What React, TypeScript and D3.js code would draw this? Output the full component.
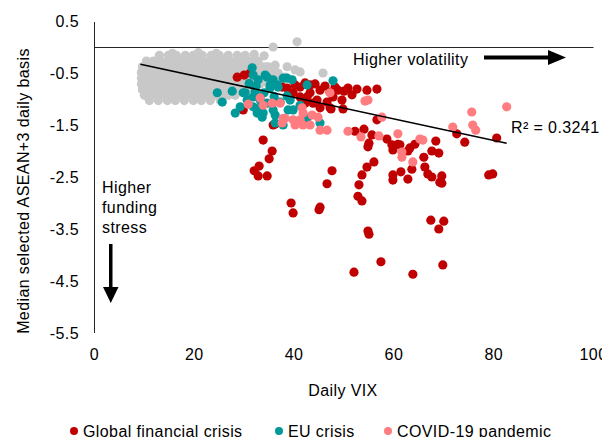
import React from "react";
import * as d3 from "d3";

// ---- data ----
const xTicks = [0, 20, 40, 60, 80, 100];
const yTicks = [0.5, -0.5, -1.5, -2.5, -3.5, -4.5, -5.5];

const seriesNames = ["Global financial crisis", "EU crisis", "COVID-19 pandemic"];
const seriesColors = ["#C00000", "#009999", "#FF7C80"];
const grayColor = "#C8C8C8";

// Non-crisis days (gray cloud), read row by row
const grayRowY = [-0.16, -0.27, -0.38, -0.49, -0.6, -0.71, -0.82, -0.93, -1.03];
const grayRowX = [
  [13.0, 14.8, 16.4, 18.2, 19.8, 21.6, 23.4, 25.0, 26.8, 28.6, 30.2],
  [10.4, 11.8, 13.2, 14.6, 16.0, 17.4, 18.8, 20.2, 21.6, 23.0, 24.4, 25.8, 27.2, 28.6, 30.0, 31.4, 32.8],
  [9.6, 11.0, 12.4, 13.8, 15.2, 16.6, 18.0, 19.4, 20.8, 22.2, 23.6, 25.0, 26.4, 27.8, 29.2, 30.6, 32.0, 33.4, 34.8],
  [9.4, 10.8, 12.2, 13.6, 15.0, 16.4, 17.8, 19.2, 20.6, 22.0, 23.4, 24.8, 26.2, 27.6, 29.0, 30.4, 31.8, 33.2, 34.6, 36.0],
  [9.4, 10.8, 12.2, 13.6, 15.0, 16.4, 17.8, 19.2, 20.6, 22.0, 23.4, 24.8, 26.2, 27.6, 29.0, 30.4, 31.8, 33.2, 34.6, 36.2],
  [9.4, 10.8, 12.2, 13.6, 15.0, 16.4, 17.8, 19.2, 20.6, 22.0, 23.4, 24.8, 26.2, 27.6, 29.0, 30.4, 31.8, 33.2, 34.8],
  [9.6, 11.0, 12.4, 13.8, 15.2, 16.6, 18.0, 19.4, 20.8, 22.2, 23.6, 25.0, 26.4, 27.8, 29.2, 30.6],
  [10.0, 11.4, 12.8, 14.2, 15.6, 17.0, 18.4, 19.8, 21.2, 22.6, 24.0, 25.4, 26.8, 28.2],
  [11.0, 12.8, 14.6, 16.2, 18.0, 19.8, 21.4, 23.2, 25.2],
];
const grayExtra: [number, number][] = [
  [35.8, 0.0], [40.6, 0.1], [34.0, -0.17], [40.2, -0.44], [38.2, -0.58], [41.2, -0.48],
  [45.8, -0.5], [38.6, -0.38], [36.2, -0.35], [34.2, -0.38], [32.0, -0.14], [15.6, -0.12],
  [20.8, -0.11], [24.4, -0.12], [36.8, -0.5], [37.4, -0.66],
];

const gfcPoints: [number, number][] = [
  [28.6, -0.58], [30.0, -0.54], [31.2, -0.5], [37.6, -0.77], [38.6, -0.79], [39.8, -0.88],
  [41.2, -0.77], [43.2, -0.73], [45.2, -0.83], [47.2, -0.87], [48.8, -0.83], [50.8, -0.79],
  [52.6, -0.81], [56.6, -0.81], [39.2, -0.96], [41.2, -0.96], [43.2, -0.88], [42.6, -0.96],
  [44.6, -1.02], [46.6, -1.06], [47.8, -0.96], [49.6, -1.02], [42.2, -1.08], [43.8, -1.08],
  [45.2, -1.17], [47.2, -1.17], [49.8, -1.19], [47.4, -1.19], [40.2, -0.73], [42.2, -0.69],
  [44.2, -0.71], [46.2, -0.75], [48.2, -0.77], [29.8, -1.21], [35.8, -1.5], [33.8, -1.79],
  [35.6, -2.0], [35.0, -2.15], [33.0, -2.29], [32.0, -2.38], [32.8, -2.48], [34.6, -2.48],
  [39.4, -3.0], [39.8, -3.19], [45.2, -3.08], [45.0, -3.13], [47.6, -2.38], [46.6, -2.63],
  [56.0, -2.21], [54.6, -2.31], [53.6, -2.46], [53.0, -2.65], [52.8, -2.87], [53.6, -2.96],
  [54.8, -3.54], [55.0, -3.6], [52.0, -4.33], [57.4, -4.13], [63.8, -4.37], [67.4, -3.33],
  [70.0, -3.35], [69.0, -3.5], [69.8, -4.19], [79.0, -2.46], [79.8, -2.44], [80.6, -1.75],
  [72.6, -1.67], [74.2, -1.83], [68.4, -1.81], [67.6, -2.0], [69.0, -2.04], [66.0, -2.12],
  [66.2, -2.31], [66.8, -2.44], [67.6, -2.5], [69.6, -2.48], [69.6, -2.62], [63.6, -2.35],
  [62.8, -2.54], [61.4, -2.4], [63.2, -1.94], [64.2, -1.87], [61.2, -1.88], [59.8, -1.98],
  [59.8, -2.46], [59.8, -2.56], [58.6, -1.77], [59.6, -1.88], [60.8, -1.87], [52.2, -1.62],
  [54.0, -1.58], [55.6, -1.69], [55.0, -1.85], [54.8, -1.92], [56.6, -1.4], [69.2, -2.6],
  [62.8, -2.0], [50.0, -0.85], [54.6, -0.83], [51.6, -0.92], [36.2, -1.48],
];

const euPoints: [number, number][] = [
  [24.6, -0.88], [25.6, -1.06], [27.6, -0.85], [28.2, -1.27], [29.2, -1.15], [31.6, -0.4],
  [31.8, -0.54], [32.8, -0.63], [34.2, -0.54], [34.6, -0.58], [35.8, -0.63], [36.8, -0.77],
  [37.8, -0.6], [38.6, -0.6], [39.6, -0.63], [30.2, -0.88], [31.8, -0.96], [33.2, -1.02],
  [31.8, -1.15], [32.6, -1.27], [33.8, -1.27], [33.6, -1.35], [34.6, -1.08], [35.8, -1.21],
  [36.2, -1.31], [36.2, -1.46], [37.8, -1.5], [38.8, -1.21], [39.8, -1.21], [39.2, -1.02],
  [38.6, -0.94], [35.2, -0.73], [36.6, -0.73], [41.2, -1.12], [42.6, -1.37], [45.2, -1.46],
  [42.6, -0.73], [47.8, -0.65], [29.8, -0.88], [30.6, -1.02], [33.2, -0.96], [37.2, -1.06],
  [35.2, -0.79], [33.2, -1.17], [32.4, -0.75], [31.0, -0.7], [34.0, -0.88], [36.0, -0.95],
  [32.2, -0.85],
];

const covidPoints: [number, number][] = [
  [30.8, -1.1], [33.2, -0.98], [33.8, -1.12], [35.6, -1.08], [37.2, -1.08], [37.8, -1.37],
  [38.2, -1.37], [39.8, -1.4], [40.2, -1.5], [41.2, -1.4], [41.2, -1.46], [41.6, -1.17],
  [41.8, -1.27], [41.8, -1.5], [43.2, -1.5], [43.6, -1.31], [44.8, -1.35], [45.2, -1.6],
  [46.6, -1.6], [47.2, -0.88], [54.2, -1.04], [57.6, -1.35], [50.8, -1.62], [53.4, -1.73],
  [57.0, -1.71], [60.8, -1.67], [65.2, -1.77], [65.8, -1.79], [61.6, -2.02], [61.6, -2.12],
  [63.8, -2.21], [71.8, -1.54], [75.6, -1.25], [75.8, -1.5], [76.4, -1.6], [82.6, -1.15],
  [37.6, -1.46], [54.8, -1.02],
];

// linear trend (as shown)
const trendRange = [9.2, 82.6];
const trendSlope = -0.0207;
const trendIntercept = -0.14;
const rSquaredLabel = "R² = 0.3241";

const FONT = "'Liberation Sans', Arial, sans-serif";

export default function App() {
  const W = 602;
  const H = 437;
  const x = d3.scaleLinear().domain([0, 100]).range([94.5, 593.5]);
  const y = d3.scaleLinear().domain([-5.5, 0.5]).range([333, 21]);
  const r = 4.6;

  const grayPoints: [number, number][] = [];
  grayRowY.forEach((yy, i) => grayRowX[i].forEach((xx) => grayPoints.push([xx, yy])));
  grayExtra.forEach((p) => grayPoints.push(p));

  const trendLine = d3
    .line<number>()
    .x((d) => x(d))
    .y((d) => y(trendIntercept + trendSlope * d));

  const textStyle = { fontFamily: FONT, fontSize: 16, letterSpacing: 0.4, fill: "#000" } as const;

  const legendX = [74, 279, 388];
  const zeroY = Math.round(y(0)) + 0.5;

  return (
    <div style={{ position: "absolute", left: 0, top: 0 }}>
      <svg width={W} height={H} style={{ display: "block", background: "#fff" }}>
        {/* y axis line */}
        <line x1={x(0)} x2={x(0)} y1={y(0.5) + 1} y2={y(-5.5)} stroke="#262626" strokeWidth={1} />
        {/* x axis at zero */}
        <line x1={x(0)} x2={x(100)} y1={zeroY} y2={zeroY} stroke="#262626" strokeWidth={1} />

        {/* y ticks */}
        {yTicks.map((t) => (
          <text key={"y" + t} x={79} y={y(t)} dy="0.36em" textAnchor="end" {...textStyle}>
            {d3.format(".1f")(t).replace("−", "-")}
          </text>
        ))}
        {/* x ticks */}
        {xTicks.map((t) => (
          <text key={"x" + t} x={x(t)} y={360} textAnchor="middle" {...textStyle}>
            {t}
          </text>
        ))}

        {/* axis titles */}
        <text x={343} y={396} textAnchor="middle" {...textStyle}>
          Daily VIX
        </text>
        <text transform="translate(29,191) rotate(-90)" textAnchor="middle" {...textStyle}>
          Median selected ASEAN+3 daily basis
        </text>

        {/* points */}
        <g>
          {grayPoints.map((p, i) => (
            <circle key={"g" + i} cx={x(p[0])} cy={y(p[1])} r={r} fill={grayColor} />
          ))}
        </g>
        <g>
          {gfcPoints.map((p, i) => (
            <circle key={"r" + i} cx={x(p[0])} cy={y(p[1])} r={r} fill={seriesColors[0]} />
          ))}
        </g>
        <g>
          {euPoints.map((p, i) => (
            <circle key={"e" + i} cx={x(p[0])} cy={y(p[1])} r={r} fill={seriesColors[1]} />
          ))}
        </g>
        <g>
          {covidPoints.map((p, i) => (
            <circle key={"c" + i} cx={x(p[0])} cy={y(p[1])} r={r} fill={seriesColors[2]} />
          ))}
        </g>

        {/* trend line */}
        <path d={trendLine(trendRange) || ""} fill="none" stroke="#000" strokeWidth={1.5} />
        <text x={511} y={133} {...textStyle}>
          {rSquaredLabel}
        </text>

        {/* annotations */}
        <text x={353} y={65} {...textStyle}>
          Higher volatility
        </text>
        <rect x={484} y={55.5} width={66} height={4} fill="#000" />
        <path d="M548,50 L566,57.5 L548,65 Z" fill="#000" />

        <text x={102} y={193} {...textStyle}>Higher</text>
        <text x={102} y={213} {...textStyle}>funding</text>
        <text x={102} y={233} {...textStyle}>stress</text>
        <rect x={109} y={244} width={3.5} height={45} fill="#000" />
        <path d="M103,287 L118.5,287 L110.75,303 Z" fill="#000" />

        {/* legend */}
        {seriesNames.map((n, i) => (
          <g key={n}>
            <circle cx={legendX[i]} cy={431} r={4} fill={seriesColors[i]} />
            <text x={legendX[i] + 9} y={436.5} {...textStyle}>
              {n}
            </text>
          </g>
        ))}
      </svg>
    </div>
  );
}
